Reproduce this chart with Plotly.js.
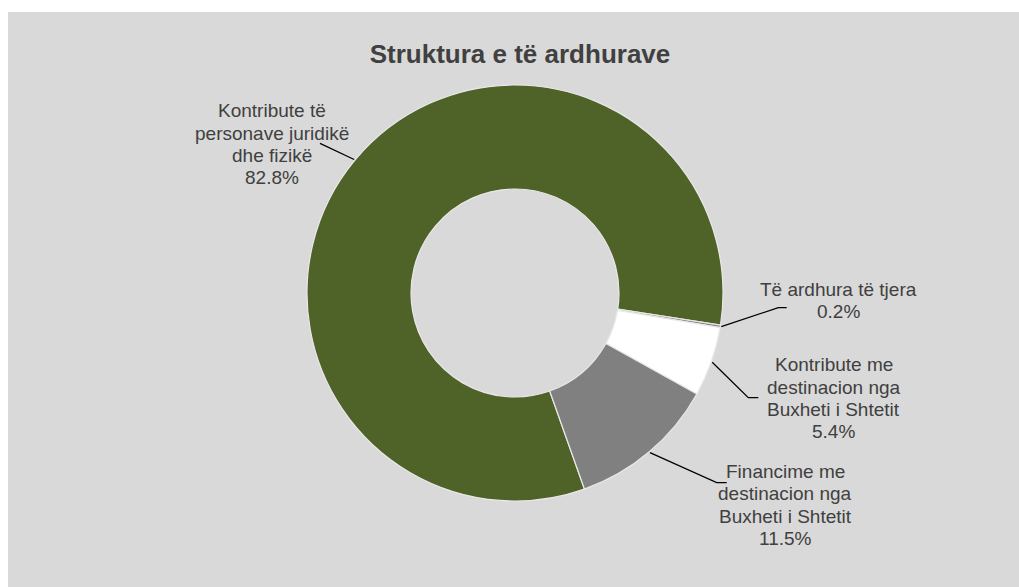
<!DOCTYPE html>
<html>
<head>
<meta charset="utf-8">
<script src="https://cdn.plot.ly/plotly-3.0.1.min.js"></script>
<style>
  html, body { margin: 0; padding: 0; background: #ffffff; width: 1019px; height: 587px; overflow: hidden; }
  #chart { position: absolute; left: 8px; top: 12px; width: 1011px; height: 575px; }
</style>
</head>
<body>
<div id="chart"></div>
<script>
// ---- data ----
const chartTitle = 'Struktura e të ardhurave';
const categories = [
  'Kontribute të personave juridikë dhe fizikë',
  'Të ardhura të tjera',
  'Kontribute me destinacion nga Buxheti i Shtetit',
  'Financime me destinacion nga Buxheti i Shtetit'
];
const shares = [82.8, 0.2, 5.4, 11.5];
const labelLines = [
  ['Kontribute të', 'personave juridikë', 'dhe fizikë'],
  ['Të ardhura të tjera'],
  ['Kontribute me', 'destinacion nga', 'Buxheti i Shtetit'],
  ['Financime me', 'destinacion nga', 'Buxheti i Shtetit']
];
const sliceColors = ['#4f6228', '#7f7f7f', '#ffffff', '#808080'];

// ---- layout geometry (pixels inside the chart div) ----
const W = 1011, H = 575;
const cx = 507, cy = 281, R = 208;
const rotationDeg = 160.5;
const fontFam = '"Liberation Sans", Arial, sans-serif';
const textColor = '#404040';
const lineGap = 22.3;
const labelFont = 19;
// label anchor (center x, first baseline y) and leader-line elbows, in div pixels
const labelPos = [[263.5, 105.5], [830, 284], [825.5, 359.5], [777, 466.3]];
const elbows = [[[312, 131.3]], [[770.3, 295.7], [778.7, 295.7]], [[740.3, 385.7], [750.3, 385.7]], [[708.7, 470.7], [718.7, 470.7]]];

const px = x => x / W;
const py = y => 1 - y / H;

const total = shares.reduce((a, b) => a + b, 0);

const trace = {
  type: 'pie',
  labels: categories,
  values: shares,
  sort: false,
  direction: 'clockwise',
  rotation: rotationDeg,
  hole: 0.5,
  textinfo: 'none',
  hoverinfo: 'skip',
  marker: { colors: sliceColors, line: { color: '#e8e8e8', width: 1.2 } },
  domain: { x: [px(cx - R), px(cx + R)], y: [py(cy + R), py(cy - R)] },
  showlegend: false
};

const annotations = [];
const shapes = [];
let acc = 0;
shares.forEach((v, i) => {
  const mid = rotationDeg + (acc + v / 2) / total * 360;
  acc += v;
  const th = mid * Math.PI / 180;
  const ax = cx + (R + 1) * Math.sin(th);
  const ay = cy - (R + 1) * Math.cos(th);
  let d = 'M' + px(ax) + ',' + py(ay);
  elbows[i].forEach(p => { d += ' L' + px(p[0]) + ',' + py(p[1]); });
  shapes.push({ type: 'path', xref: 'paper', yref: 'paper', path: d, line: { color: '#000000', width: 1.3 } });
  const lines = labelLines[i].concat([v.toFixed(1) + '%']);
  lines.forEach((t, k) => {
    const base = labelPos[i][1] + k * lineGap;
    annotations.push({
      xref: 'paper', yref: 'paper',
      x: px(labelPos[i][0]), y: py(base - 0.35 * labelFont),
      xanchor: 'center', yanchor: 'middle',
      text: t, showarrow: false,
      font: { family: fontFam, size: labelFont, color: textColor }
    });
  });
});

const layout = {
  width: W, height: H,
  margin: { l: 0, r: 0, t: 0, b: 0 },
  paper_bgcolor: '#d9d9d9',
  plot_bgcolor: '#d9d9d9',
  title: {
    text: chartTitle,
    x: (520 - 8) / W, xanchor: 'center', xref: 'paper',
    y: 1 - (51.3 - 0.35 * 26) / H, yanchor: 'middle', yref: 'container',
    font: { family: fontFam, size: 26, color: textColor, weight: 700 }
  },
  annotations: annotations,
  shapes: shapes,
  showlegend: false
};

Plotly.newPlot('chart', [trace], layout, { displayModeBar: false, staticPlot: true });
</script>
</body>
</html>
